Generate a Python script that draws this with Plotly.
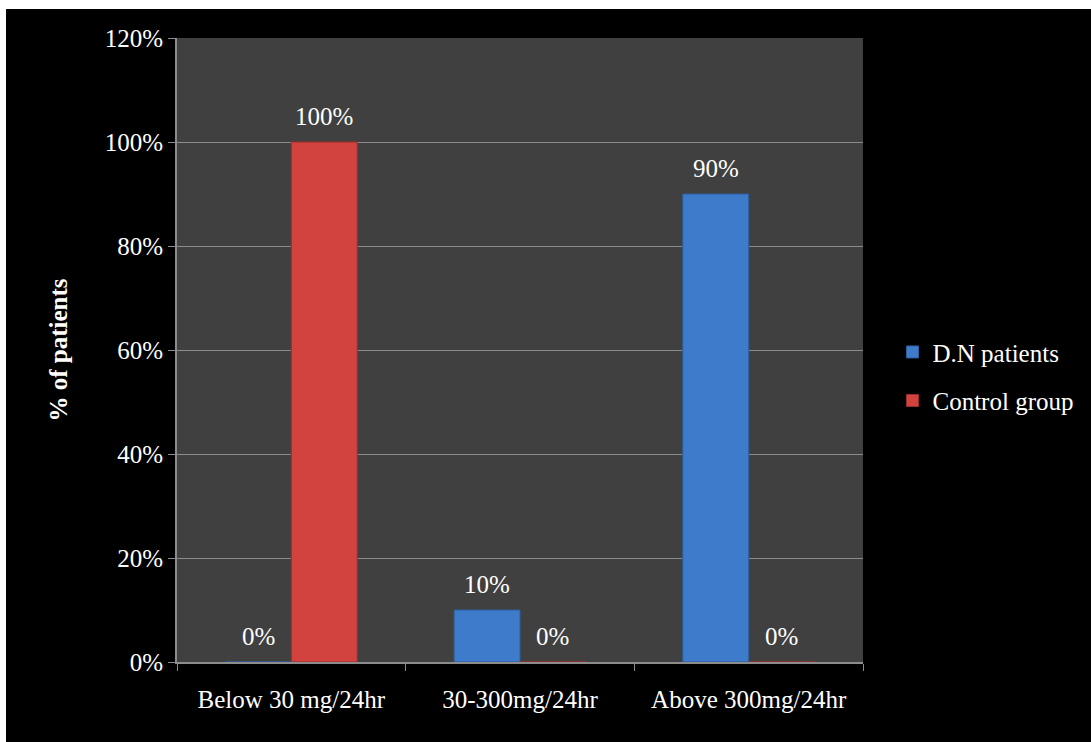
import plotly.graph_objects as go

# Urinary albumin excretion groups and share of patients in each
categories = ["Below 30 mg/24hr", "30-300mg/24hr", "Above 300mg/24hr"]
dn_patients = [0.0, 0.10, 0.90]
control_group = [1.0, 0.0, 0.0]
series_names = ["D.N patients", "Control group"]
y_ticks = [0, 0.2, 0.4, 0.6, 0.8, 1.0, 1.2]

W, H = 1091, 742
M_L, M_R, M_T, M_B = 177, 228, 38, 80
FONT = "Liberation Serif, serif"
FS = 25

blue = "#3e7ccb"
red = "#d2433f"

fig = go.Figure()
fig.add_trace(go.Bar(
    x=categories, y=dn_patients, name=series_names[0], legendgroup="a",
    marker=dict(color=blue, line=dict(color="#2d5f9e", width=1)),
))
fig.add_trace(go.Bar(
    x=categories, y=control_group, name=series_names[1], legendgroup="b",
    marker=dict(color=red, line=dict(color="#9c302d", width=1)),
))

# value labels above each bar (bars sit side by side, offset by half a bar width)
plot_w = W - M_L - M_R
cat_w = plot_w / len(categories)
bargap = 0.424
bar_px = cat_w * (1 - bargap) / 2
annotations = []
for vals, sign in ((dn_patients, -1), (control_group, 1)):
    for c, v in zip(categories, vals):
        annotations.append(dict(
            x=c, y=v, xref="x", yref="y", text=f"{v * 100:.0f}%",
            showarrow=False, yanchor="bottom", xanchor="center",
            xshift=sign * bar_px / 2, yshift=10,
            font=dict(family=FONT, size=FS, color="white"),
        ))

# thin white strips along the top and left edges of the page
plot_h = H - M_T - M_B
shapes = [
    dict(type="rect", xref="paper", yref="paper", layer="below",
         x0=-M_L / plot_w, x1=(W - M_L) / plot_w,
         y0=(H - M_B - 9) / plot_h, y1=(H - M_B) / plot_h,
         fillcolor="white", line=dict(width=0)),
    dict(type="rect", xref="paper", yref="paper", layer="below",
         x0=-M_L / plot_w, x1=(6 - M_L) / plot_w,
         y0=-M_B / plot_h, y1=(H - M_B) / plot_h,
         fillcolor="white", line=dict(width=0)),
]

fig.update_layout(
    width=W, height=H,
    margin=dict(l=M_L, r=M_R, t=M_T, b=M_B),
    paper_bgcolor="black", plot_bgcolor="#404040",
    barmode="group", bargap=bargap, bargroupgap=0,
    font=dict(family=FONT, size=FS, color="white"),
    showlegend=True,
    legend=dict(x=1.043, y=0.458, xanchor="left", yanchor="middle",
                font=dict(family=FONT, size=FS, color="white"),
                bgcolor="rgba(0,0,0,0)", tracegroupgap=13, traceorder="grouped",
                itemwidth=30),
    annotations=annotations,
    shapes=shapes,
)
fig.update_yaxes(
    range=[0, 1.2], tickvals=y_ticks, tickformat=".0%",
    showgrid=True, gridcolor="#8c8c8c", gridwidth=1,
    showline=True, linecolor="#8c8c8c", linewidth=2,
    ticks="outside", ticklen=7, tickcolor="#8c8c8c",
    zeroline=False,
    tickfont=dict(family=FONT, size=FS, color="white"),
    title=dict(text="<b>% of patients</b>", standoff=30,
               font=dict(family=FONT, size=FS, color="white")),
)
fig.update_xaxes(
    showline=True, linecolor="#8c8c8c", linewidth=2,
    ticks="outside", ticklen=7, tickcolor="#8c8c8c", tickson="boundaries",
    tickfont=dict(family=FONT, size=FS, color="white"),
    ticklabelstandoff=14,
)

fig.write_html("out.html")
